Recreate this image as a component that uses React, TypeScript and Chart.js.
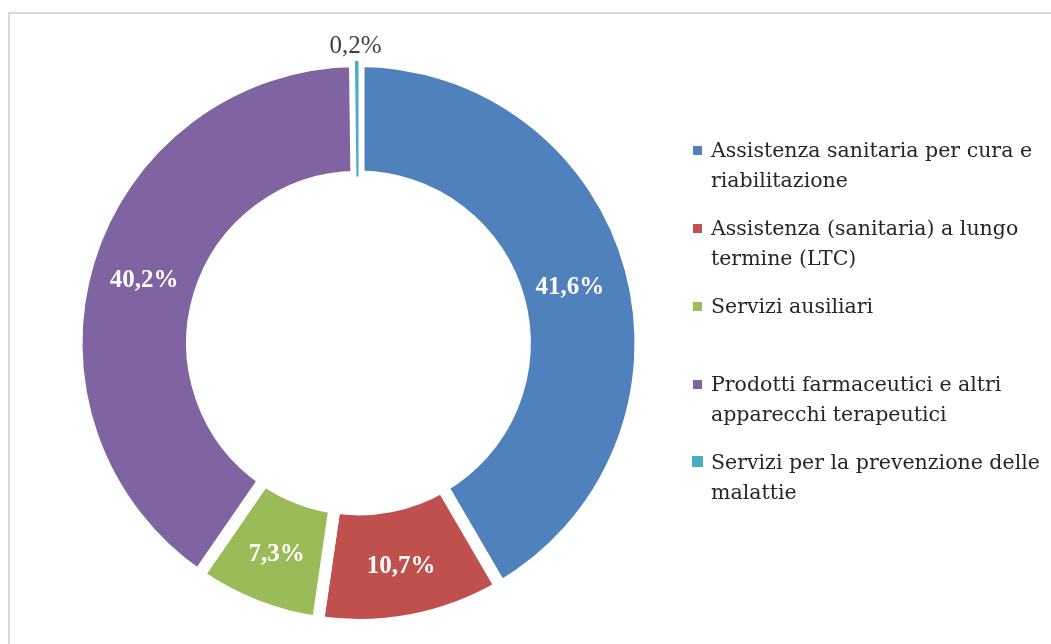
import React, { useEffect, useRef } from "react";
import { Chart, registerables } from "chart.js";

Chart.register(...registerables);

const categories = [
  "Assistenza sanitaria per cura e riabilitazione",
  "Assistenza (sanitaria) a lungo termine (LTC)",
  "Servizi ausiliari",
  "Prodotti farmaceutici e altri apparecchi terapeutici",
  "Servizi per la prevenzione delle malattie",
];

const legendLines = [
  ["Assistenza sanitaria per cura e", "riabilitazione"],
  ["Assistenza (sanitaria) a lungo", "termine (LTC)"],
  ["Servizi ausiliari"],
  ["Prodotti farmaceutici e altri", "apparecchi terapeutici"],
  ["Servizi per la prevenzione delle", "malattie"],
];

const shares = [41.6, 10.7, 7.3, 40.2, 0.2];
const shareLabels = ["41,6%", "10,7%", "7,3%", "40,2%", "0,2%"];
const sliceColors = ["#4F81BD", "#C0504D", "#9BBB59", "#8064A2", "#4BACC6"];

const labelsPlugin = {
  id: "sliceLabels",
  afterDatasetsDraw(chart: any) {
    const ctx = chart.ctx;
    const meta = chart.getDatasetMeta(0);
    ctx.save();
    ctx.textAlign = "center";
    ctx.textBaseline = "middle";
    meta.data.forEach((arc: any, i: number) => {
      if (shares[i] >= 1) {
        const p = arc.tooltipPosition();
        ctx.font = "bold 25px 'Liberation Serif', serif";
        ctx.fillStyle = "#ffffff";
        ctx.fillText(shareLabels[i], p.x - (i === 0 ? 5 : 0), p.y + 3);
      } else {
        const mid = (arc.startAngle + arc.endAngle) / 2;
        const r = arc.outerRadius + 16;
        ctx.font = "25px 'Liberation Serif', serif";
        ctx.fillStyle = "#404040";
        ctx.fillText(shareLabels[i], arc.x + Math.cos(mid) * r - 1, arc.y + Math.sin(mid) * r + 1);
      }
    });
    ctx.restore();
  },
};

const legendPlugin = {
  id: "sideLegend",
  afterDraw(chart: any) {
    const ctx = chart.ctx;
    ctx.save();
    ctx.font = "20.5px 'DejaVu Serif', serif";
    ctx.textAlign = "left";
    ctx.textBaseline = "alphabetic";
    const x0 = 693;
    const textX = 711;
    const firstBaseline = 157;
    const step = 78;
    const lineH = 29.5;
    legendLines.forEach((lines, i) => {
      const base = firstBaseline + i * step;
      const size = i === 4 ? 11 : 9;
      ctx.fillStyle = sliceColors[i];
      ctx.fillRect(x0 + (i === 4 ? -1 : 0), base - 11 - (size - 9), size, size);
      ctx.fillStyle = "#262626";
      lines.forEach((t, j) => ctx.fillText(t, textX, base + j * lineH));
    });
    ctx.restore();
  },
};

export default function App() {
  const ref = useRef<HTMLCanvasElement | null>(null);

  useEffect(() => {
    if (!ref.current) return;
    const chart = new Chart(ref.current, {
      type: "doughnut",
      data: {
        labels: categories,
        datasets: [
          {
            data: shares,
            backgroundColor: sliceColors,
            borderColor: "#ffffff",
            borderWidth: [12, 12, 12, 12, 0],
            borderAlign: "center",
            borderJoinStyle: "miter",
          } as any,
        ],
      },
      options: {
        responsive: false,
        animation: false,
        devicePixelRatio: 1,
        rotation: 0,
        circumference: 360,
        cutout: "59%",
        radius: 282,
        layout: { padding: { left: 78, right: 1051 - 639, top: 63, bottom: 644 - 623 } },
        plugins: {
          legend: { display: false },
          tooltip: { enabled: false },
        },
      } as any,
      plugins: [labelsPlugin, legendPlugin],
    });
    return () => chart.destroy();
  }, []);

  return (
    <div
      style={{
        position: "fixed",
        left: 0,
        top: 0,
        width: 1051,
        height: 644,
        overflow: "hidden",
        background: "#ffffff",
      }}
    >
      <div
        style={{
          position: "absolute",
          left: 8,
          top: 12,
          width: 1200,
          height: 800,
          border: "2px solid #d9d9d9",
        }}
      />
      <canvas
        ref={ref}
        width={1051}
        height={644}
        style={{ position: "absolute", left: 0, top: 0, width: 1051, height: 644 }}
      />
    </div>
  );
}
